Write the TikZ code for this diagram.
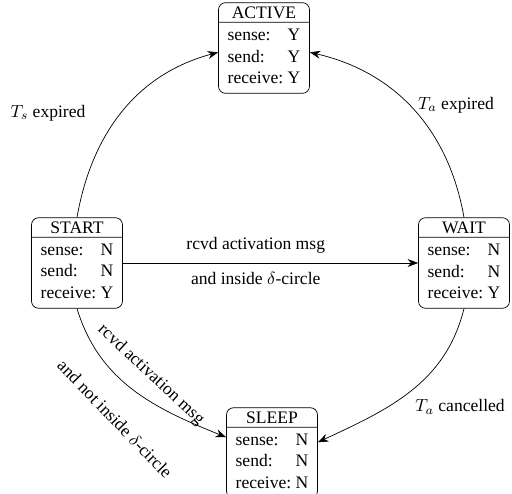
\documentclass[tikz,border=0pt]{standalone}
\usepackage{fontspec}
\setmainfont{Liberation Serif}
\usetikzlibrary{shapes.multipart,arrows.meta}

\newcommand{\statetab}[3]{%
  \begin{tabular}{@{}l@{\ }l@{}}sense: & #1\\ send: & #2\\ receive: & #3\end{tabular}}

\begin{document}
\begin{tikzpicture}[x=0.02cm, y=0.02cm, >={Stealth[length=6pt,width=4.5pt]},
    statebox/.style={draw, rectangle split, rectangle split parts=2, rounded corners=4pt,
      minimum width=1.82cm, inner ysep=2pt, font=\fontsize{10}{12}\selectfont}]
  \useasboundingbox (0,0) rectangle (512,494);
  \node[statebox] (active) at (264,446) {ACTIVE \nodepart{two} \statetab{Y}{Y}{Y}};
  \node[statebox] (start) at (77,231) {START \nodepart{two} \statetab{N}{N}{Y}};
  \node[statebox] (wait) at (464,231) {WAIT \nodepart{two} \statetab{N}{N}{Y}};
  \node[statebox] (sleep) at (272,41) {SLEEP \nodepart{two} \statetab{N}{N}{N}};

  \draw[->] (start.north) to[out=80,in=195] ([yshift=-0.6cm]active.text split west);
  \draw[->] (wait.north) to[out=100,in=-13] ([yshift=-0.6cm]active.text split east);
  \draw[->] (start.east) -- (wait.west)
    node[pos=0.45, above=2pt] {rcvd activation msg}
    node[pos=0.45, below=2pt] {and inside $\delta$-circle};
  \draw[->] (start.south) to[out=-73,in=158] ([yshift=-0.2cm]sleep.text split west);
  \draw[->] (wait.south) to[out=-104,in=25] ([yshift=-0.3cm]sleep.text split east);

  \node (tsexp) at (48,381) {$T_s$ expired};
  \node (taexp) at (456,389) {$T_a$ expired};
  \node (tacanc) at (460,87) {$T_a$ cancelled};
  \node[rotate=-43] (rcvdsleep) at (151,119) {rcvd activation msg};
  \node[rotate=-46] (notinside) at (115,75) {and not inside $\delta$-circle};
\end{tikzpicture}
\end{document}
